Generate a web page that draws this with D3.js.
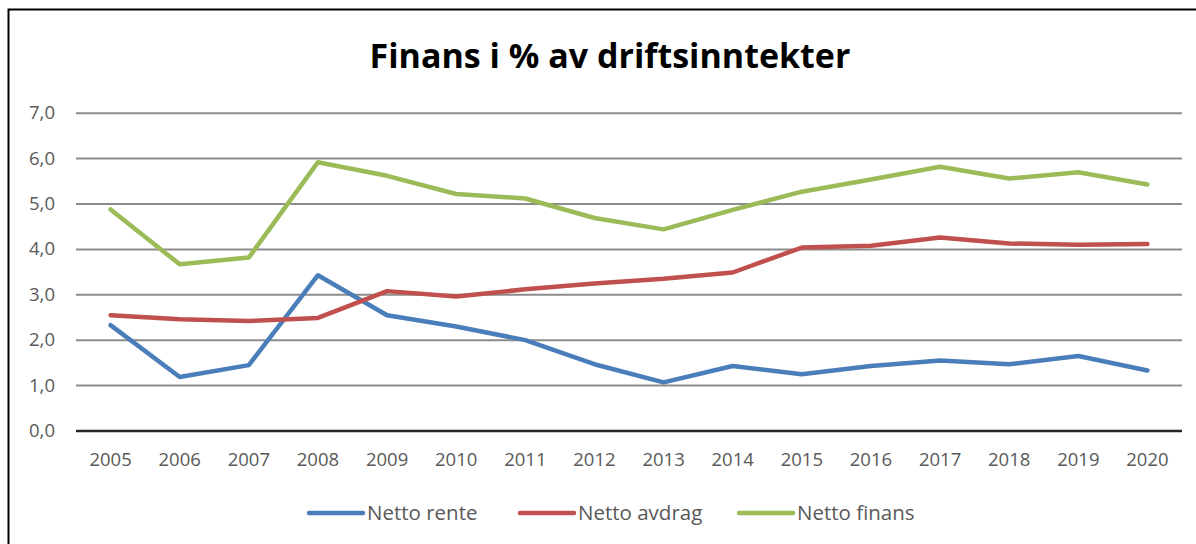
<!DOCTYPE html>
<html>
<head>
<meta charset="utf-8">
<script src="https://cdn.jsdelivr.net/npm/d3@7"></script>
<style>
body{margin:0;background:#fff;}
svg{display:block;font-family:"Open Sans",sans-serif;}
</style>
</head>
<body>
<script>
// data
const years=["2005","2006","2007","2008","2009","2010","2011","2012","2013","2014","2015","2016","2017","2018","2019","2020"];
const nettoRente=[2.32,1.18,1.44,3.42,2.54,2.29,1.99,1.46,1.06,1.42,1.24,1.42,1.54,1.46,1.64,1.32];
const nettoAvdrag=[2.54,2.45,2.41,2.48,3.07,2.95,3.11,3.24,3.34,3.48,4.03,4.07,4.25,4.12,4.09,4.11];
const nettoFinans=[4.87,3.66,3.81,5.91,5.61,5.21,5.11,4.68,4.43,4.86,5.26,5.53,5.81,5.55,5.69,5.42];
const seriesNames=["Netto rente","Netto avdrag","Netto finans"];
const yTicks=[0,1,2,3,4,5,6,7];

const series=[nettoRente,nettoAvdrag,nettoFinans];
const colors=["#4a7ebb","#c0504d","#9bbb59"];

const w=1196, h=544;
const padL=76, padR=1182, padT=112.7, padB=430.5;

const svg=d3.select("body").append("svg")
  .attr("width",w).attr("height",h);

// chart frame (only top and left edge are inside the picture)
svg.append("rect")
  .attr("x",8.5).attr("y",9.5)
  .attr("width",w+20).attr("height",h+20)
  .attr("fill","none").attr("stroke","#000").attr("stroke-width",2);

// title
svg.append("text")
  .attr("x",610).attr("y",68)
  .attr("text-anchor","middle")
  .style("font-size","34px").style("font-weight","bold")
  .attr("fill","#000")
  .text("Finans i % av driftsinntekter");

//scales
const x=d3.scaleBand().domain(years).range([padL,padR]).padding(0);
const y=d3.scaleLinear().domain([0,7]).range([padB,padT]);
const no=d3.formatLocale({decimal:",",thousands:" ",grouping:[3],currency:["","kr"]});

//y axis with grid
const yAxis=svg.append("g")
  .attr("transform","translate("+padL+",0)")
  .call(d3.axisLeft(y).tickValues(yTicks).tickFormat(no.format(".1f")).tickSize(-(padR-padL)).tickPadding(21));
yAxis.select(".domain").remove();
yAxis.selectAll(".tick line").attr("stroke","#8c8c8c").attr("stroke-width",2);
yAxis.selectAll(".tick").filter(d=>d===0).select("line").attr("stroke","#262626").attr("stroke-width",2.5);
yAxis.selectAll("text").attr("fill","#595959").style("font-size","18.5px").style("font-family","'Open Sans',sans-serif");

//x axis labels
const xAxis=svg.append("g")
  .attr("transform","translate(0,"+padB+")")
  .call(d3.axisBottom(x).tickSize(0).tickPadding(22));
xAxis.select(".domain").remove();
xAxis.selectAll("text").attr("fill","#595959").style("font-size","18.5px").style("font-family","'Open Sans',sans-serif");

//lines
const line=d3.line()
  .x((d,i)=>x(years[i])+x.bandwidth()/2)
  .y(d=>y(d));

svg.selectAll(".series")
  .data(series)
  .enter()
  .append("path")
  .attr("class","series")
  .attr("d",line)
  .attr("fill","none")
  .attr("stroke",(d,i)=>colors[i])
  .attr("stroke-width",4.5)
  .attr("stroke-linejoin","round")
  .attr("stroke-linecap","round");

//legend
const legX=[309,520,739];
const leg=svg.append("g").attr("transform","translate(0,513)");
seriesNames.forEach((name,i)=>{
  leg.append("line")
    .attr("x1",legX[i]).attr("x2",legX[i]+54)
    .attr("y1",0).attr("y2",0)
    .attr("stroke",colors[i]).attr("stroke-width",4.5).attr("stroke-linecap","round");
  leg.append("text")
    .attr("x",legX[i]+58).attr("y",0)
    .attr("dy","0.35em")
    .attr("fill","#595959")
    .style("font-size","20.5px")
    .text(name);
});
</script>
</body>
</html>
